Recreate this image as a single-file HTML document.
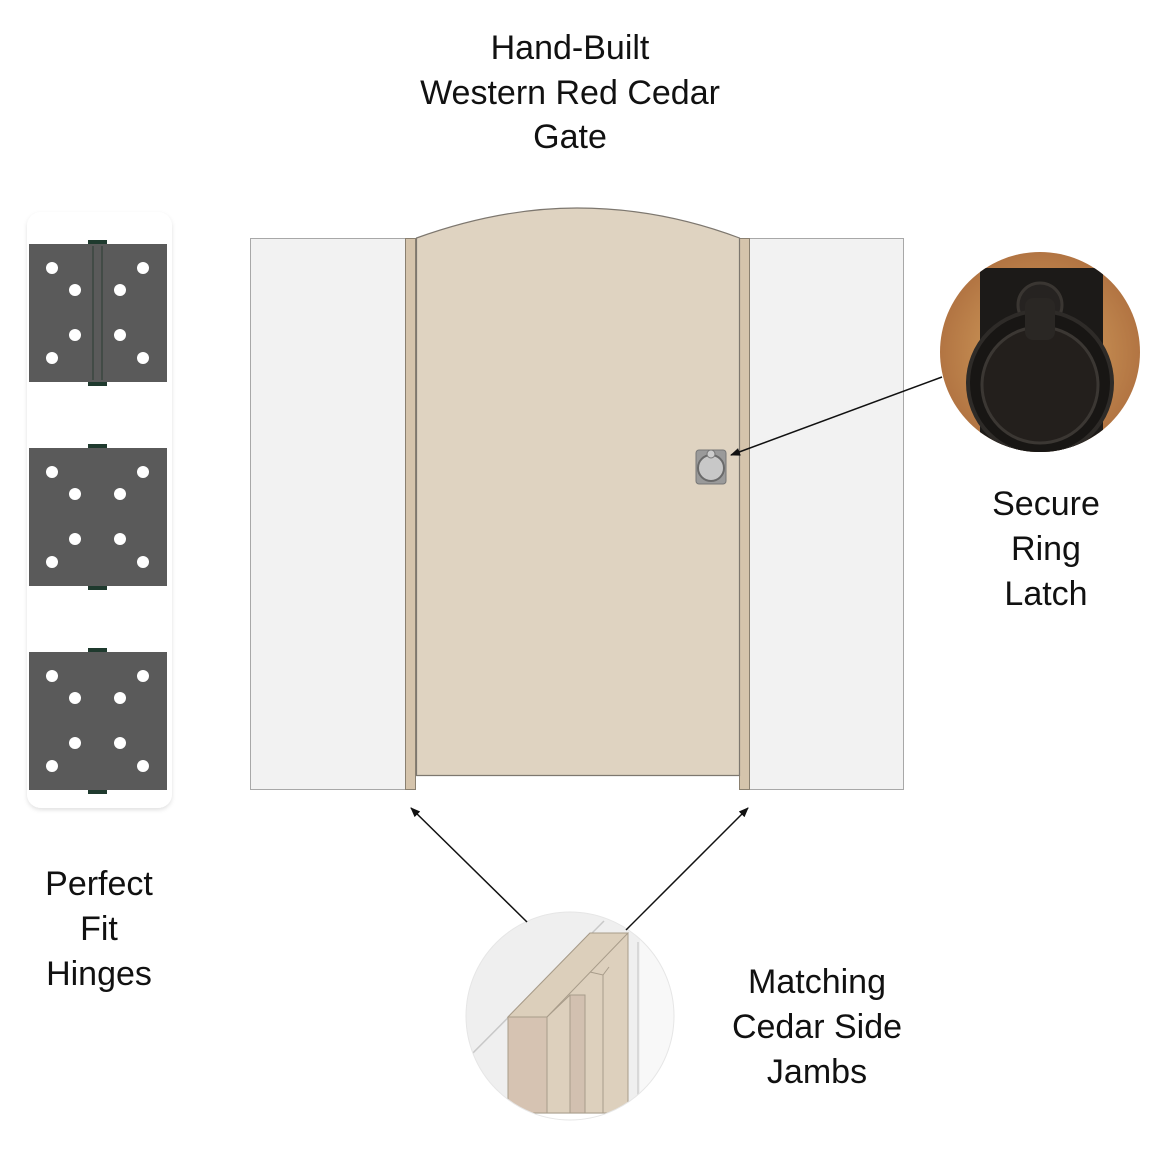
<!DOCTYPE html>
<html><head><meta charset="utf-8"><style>
html,body{margin:0;padding:0;background:#fff;}
svg{display:block;}
text{font-family:"Liberation Sans",sans-serif;font-size:34px;fill:#111;text-anchor:middle;}
</style></head><body>
<svg width="1152" height="1152" viewBox="0 0 1152 1152" xmlns="http://www.w3.org/2000/svg">
<defs>
<marker id="ah" markerWidth="10" markerHeight="10" refX="9" refY="5" orient="auto" markerUnits="userSpaceOnUse">
<path d="M0,1 L10,5 L0,9 z" fill="#111"/>
</marker>
<filter id="sh" x="-20%" y="-20%" width="140%" height="140%"><feDropShadow dx="0" dy="2" stdDeviation="2" flood-color="#000" flood-opacity="0.12"/></filter>
<clipPath id="c1"><circle cx="1040" cy="352" r="100"/></clipPath>
<clipPath id="c2"><circle cx="570" cy="1016" r="104"/></clipPath>
<radialGradient id="wood" cx="0.5" cy="0.5" r="0.6"><stop offset="0" stop-color="#d9a863"/><stop offset="1" stop-color="#a8673a"/></radialGradient>
</defs>

<text x="570" y="59">Hand-Built</text>
<text x="570" y="104">Western Red Cedar</text>
<text x="570" y="148">Gate</text>

<rect x="27" y="212" width="145" height="596" rx="14" fill="#fff" filter="url(#sh)"/>
<g id="h">
<rect x="88" y="240" width="19" height="6" fill="#1f3a2e"/>
<rect x="88" y="380" width="19" height="6" fill="#1f3a2e"/>
<rect x="29" y="244" width="138" height="138" fill="#5a5a5a"/>
<g fill="#fff">
<circle cx="52" cy="268" r="6"/><circle cx="143" cy="268" r="6"/>
<circle cx="75" cy="290" r="6"/><circle cx="120" cy="290" r="6"/>
<circle cx="75" cy="335" r="6"/><circle cx="120" cy="335" r="6"/>
<circle cx="52" cy="358" r="6"/><circle cx="143" cy="358" r="6"/>
</g>
</g>
<line x1="93" y1="246" x2="93" y2="380" stroke="#3a463f" stroke-width="1.5"/>
<line x1="102" y1="246" x2="102" y2="380" stroke="#3a463f" stroke-width="1.5"/>
<use href="#h" y="204"/>
<use href="#h" y="408"/>

<text x="99" y="895">Perfect</text>
<text x="99" y="940">Fit</text>
<text x="99" y="985">Hinges</text>

<rect x="250.5" y="238.5" width="155" height="551" fill="#f2f2f2" stroke="#a8a8a8"/>
<rect x="749.5" y="238.5" width="154" height="551" fill="#f2f2f2" stroke="#a8a8a8"/>
<rect x="405.5" y="238.5" width="10" height="551" fill="#d5c4ac" stroke="#8a8070"/>
<rect x="739.5" y="238.5" width="10" height="551" fill="#d5c4ac" stroke="#8a8070"/>
<path d="M416.5,238 Q500,208 577,208 Q660,208 739.5,238 L739.5,775.5 L416.5,775.5 Z" fill="#dfd3c1" stroke="#7d776f" stroke-width="1.2"/>

<rect x="696" y="450" width="30" height="34" rx="3" fill="#9a9a9a" stroke="#777"/>
<circle cx="711" cy="468" r="13" fill="#c8c8c8" stroke="#6a6a6a" stroke-width="2"/>
<circle cx="711" cy="454" r="4" fill="#ccc" stroke="#777"/>

<g clip-path="url(#c1)">
<rect x="935" y="248" width="210" height="210" fill="url(#wood)"/>
<rect x="980" y="268" width="123" height="190" fill="#1c1a18"/>
<circle cx="1040" cy="305" r="22" fill="#262321" stroke="#3a3632" stroke-width="3"/>
<circle cx="1040" cy="383" r="72" fill="#181614" stroke="#2e2b28" stroke-width="4"/>
<circle cx="1040" cy="385" r="58" fill="#231f1c" stroke="#3b3733" stroke-width="3"/>
<rect x="1025" y="298" width="30" height="42" rx="8" fill="#2a2724"/>
</g>
<text x="1046" y="515">Secure</text>
<text x="1046" y="560">Ring</text>
<text x="1046" y="605">Latch</text>

<g clip-path="url(#c2)">
<rect x="460" y="905" width="220" height="220" fill="#efefef"/>
<rect x="640" y="905" width="40" height="220" fill="#f8f8f8"/>
<line x1="604" y1="921" x2="466" y2="1060" stroke="#c8c8c8" stroke-width="1.5"/>
<line x1="638" y1="942" x2="638" y2="1105" stroke="#d0d0d0" stroke-width="1.5"/>
<path d="M508,1017 L590,933 L628,933 L628,1113 L508,1113 Z" fill="#ddd0bd" stroke="#a89c8a"/>
<path d="M508,1017 L590,933 L628,933 L547,1017 Z" fill="#dccfbb" stroke="#a89c8a"/>
<rect x="508" y="1017" width="39" height="96" fill="#d6c3b2" stroke="#a89c8a"/>
<path d="M570,995 L585,995 L585,1113 L570,1113 Z" fill="#d2c0b0" stroke="#a89c8a"/>
<path d="M547,1017 L570,995" stroke="#a89c8a"/>
<line x1="603" y1="975" x2="603" y2="1113" stroke="#a89c8a"/>
<path d="M590,972 L603,975 L609,967" fill="none" stroke="#a89c8a"/>
<rect x="460" y="1114" width="220" height="20" fill="#fff"/>
</g>
<circle cx="570" cy="1016" r="104" fill="none" stroke="#e6e6e6" stroke-width="1"/>
<text x="817" y="993">Matching</text>
<text x="817" y="1038">Cedar Side</text>
<text x="817" y="1083">Jambs</text>

<g stroke="#111" stroke-width="1.5" fill="none">
<line x1="942" y1="377" x2="731" y2="455" marker-end="url(#ah)"/>
<line x1="527" y1="922" x2="411" y2="808" marker-end="url(#ah)"/>
<line x1="626" y1="930" x2="748" y2="808" marker-end="url(#ah)"/>
</g>
</svg>
</body></html>
